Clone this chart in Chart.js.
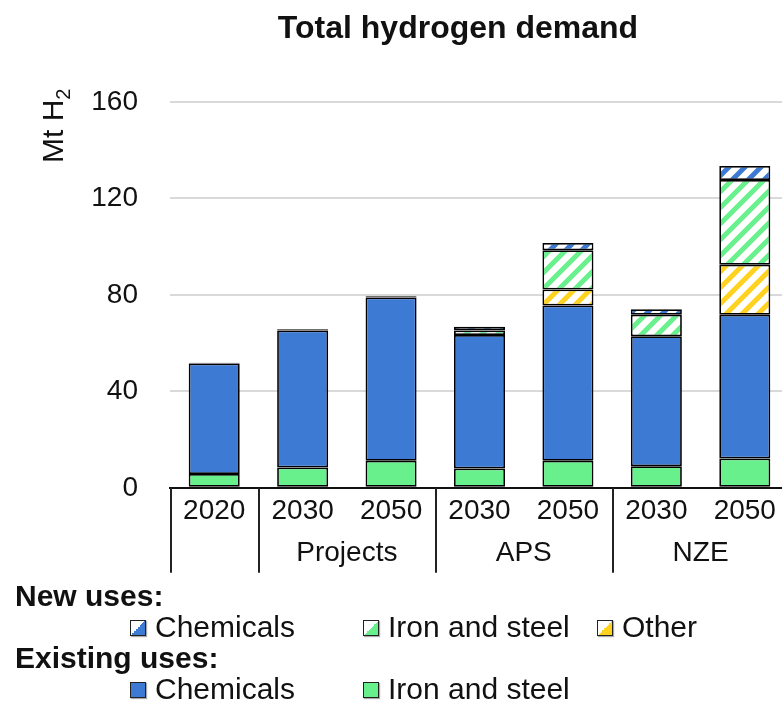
<!DOCTYPE html>
<html>
<head>
<meta charset="utf-8">
<script src="https://cdn.jsdelivr.net/npm/chart.js@4"></script>
<style>
  html, body { margin: 0; padding: 0; overflow: hidden; background: #fff; }
  body { width: 782px; height: 704px; position: relative; font-family: "Liberation Sans", Arial, sans-serif; color: #111; }
  #wrap { position: absolute; left: 0; top: 0; width: 800px; height: 590px; }
  .abs { position: absolute; white-space: nowrap; line-height: 30px; font-size: 30px; }
  #title { left: 258px; width: 400px; top: 11px; text-align: center; font-weight: bold; font-size: 32px; line-height: 32px; }
  #ylab { left: 38px; top: 163px; transform: rotate(-90deg); transform-origin: left top; }
  #ylab span { font-size: 20px; position: relative; top: 7px; }
  .head { font-weight: bold; left: 15px; }
  .box { position: absolute; width: 14px; height: 14px; border: 1.5px solid #222; box-shadow: 1px 1px 1px #aaa; }
</style>
</head>
<body>
<div id="wrap"><canvas id="c" width="800" height="590"></canvas></div>
<div id="title" class="abs">Total hydrogen demand</div>
<div id="ylab" class="abs">Mt H<span>2</span></div>
<div id="legend"></div>
<script>
// values (Mt H2)
const years = ["2020", "2030", "2050", "2030", "2050", "2030", "2050"];
const groupNames = ["Projects", "APS", "NZE"];
const groupCenters = [1.5, 3.5, 5.5];
const groupEdges = [-0.5, 0.5, 2.5, 4.5, 6.5];
const existIron = [5.7, 8.4, 11.2, 8.0, 11.2, 8.9, 12.2];
const existChem = [45.9, 56.8, 67.7, 55.4, 64.4, 54.0, 59.6];
const newOther = [null, null, null, null, 6.6, null, 20.7];
const newIron = [null, null, null, 1.8, 16.3, 8.9, 35.1];
const newChem = [0.3, 0.6, 0.5, 1.6, 3.0, 2.2, 5.9];
const yTicks = [0, 40, 80, 120, 160];

const BLUE = "#3c7ad3";
const GREEN = "#68f08c";
const YELLOW = "#ffd21f";

const canvas = document.getElementById("c");
const ctx = canvas.getContext("2d");

function hatch(color) {
  const s = 16;
  const c = document.createElement("canvas");
  c.width = s; c.height = s;
  const g = c.getContext("2d");
  g.fillStyle = "#fff";
  g.fillRect(0, 0, s, s);
  g.strokeStyle = color;
  g.lineWidth = 5;
  g.beginPath();
  g.moveTo(0, s); g.lineTo(s, 0);
  g.moveTo(-s / 2, s / 2); g.lineTo(s / 2, -s / 2);
  g.moveTo(s / 2, s * 1.5); g.lineTo(s * 1.5, s / 2);
  g.stroke();
  return ctx.createPattern(c, "repeat");
}

const bar = (label, data, fill) => ({
  label, data,
  backgroundColor: fill,
  borderColor: "#000",
  borderWidth: 1.75,
  borderSkipped: false,
  inflateAmount: 0,
  categoryPercentage: 0.577,
  barPercentage: 1,
});

// vertical separators between the scenario groups, below the axis
const groupLines = {
  id: "groupLines",
  afterDraw(chart) {
    const g = chart.scales.grp;
    const y0 = chart.chartArea.bottom;
    const c = chart.ctx;
    c.save();
    c.strokeStyle = "#222";
    c.lineWidth = 2;
    c.beginPath();
    groupEdges.forEach((v) => {
      const x = Math.round(g.getPixelForValue(v)) + 1;
      c.moveTo(x, y0);
      c.lineTo(x, y0 + 85);
    });
    c.stroke();
    c.restore();
  },
};

new Chart(ctx, {
  type: "bar",
  data: {
    labels: years,
    datasets: [
      bar("Existing: Iron and steel", existIron, GREEN),
      bar("Existing: Chemicals", existChem, BLUE),
      bar("New: Other", newOther, hatch(YELLOW)),
      bar("New: Iron and steel", newIron, hatch(GREEN)),
      bar("New: Chemicals", newChem, hatch(BLUE)),
    ],
  },
  options: {
    responsive: false,
    animation: false,
    layout: { padding: { top: 102, right: 11, bottom: 19, left: 0 } },
    plugins: { legend: { display: false }, tooltip: { enabled: false } },
    scales: {
      x: {
        stacked: true,
        border: { display: true, color: "#111", width: 2 },
        grid: { drawOnChartArea: false, drawTicks: false },
        ticks: {
          padding: 7,
          color: "#111",
          font: { size: 28, family: "Liberation Sans" },
          maxRotation: 0,
          autoSkip: false,
        },
      },
      grp: {
        type: "linear",
        position: "bottom",
        offset: false,
        min: -0.5,
        max: 6.5,
        border: { display: false },
        grid: { display: false, drawTicks: false, offset: false },
        afterBuildTicks: (s) => { s.ticks = groupCenters.map((v) => ({ value: v })); },
        ticks: {
          padding: 1,
          color: "#111",
          font: { size: 28, family: "Liberation Sans" },
          maxRotation: 0,
          autoSkip: false,
          callback: (v, i) => groupNames[i],
        },
      },
      y: {
        stacked: true,
        min: 0,
        max: 160,
        afterFit: (s) => { s.width = 170; },
        afterBuildTicks: (s) => { s.ticks = yTicks.map((v) => ({ value: v })); },
        border: { display: false },
        grid: { color: "#d9d9d9", lineWidth: 2, drawTicks: false },
        ticks: {
          padding: 32,
          color: "#111",
          font: { size: 28, family: "Liberation Sans" },
        },
      },
    },
  },
  plugins: [groupLines],
});

// legend built in html
const legendRows = [
  { head: "New uses:", top: 581, items: [
    ["Chemicals", `linear-gradient(135deg, #fff 50%, ${BLUE} 50%)`, 130],
    ["Iron and steel", `linear-gradient(135deg, #fff 50%, ${GREEN} 50%)`, 363],
    ["Other", `linear-gradient(135deg, #fff 50%, ${YELLOW} 50%)`, 597],
  ] },
  { head: "Existing uses:", top: 643, items: [
    ["Chemicals", BLUE, 130],
    ["Iron and steel", GREEN, 363],
  ] },
];
const lg = document.getElementById("legend");
legendRows.forEach((r) => {
  const h = document.createElement("div");
  h.className = "abs head";
  h.style.top = r.top + "px";
  h.textContent = r.head;
  lg.appendChild(h);
  r.items.forEach(([text, fill, x]) => {
    const b = document.createElement("div");
    b.className = "box";
    b.style.left = x + "px";
    b.style.top = (r.top + 39) + "px";
    b.style.background = fill;
    lg.appendChild(b);
    const t = document.createElement("div");
    t.className = "abs";
    t.style.left = (x + 25) + "px";
    t.style.top = (r.top + 31) + "px";
    t.textContent = text;
    lg.appendChild(t);
  });
});
</script>
</body>
</html>
